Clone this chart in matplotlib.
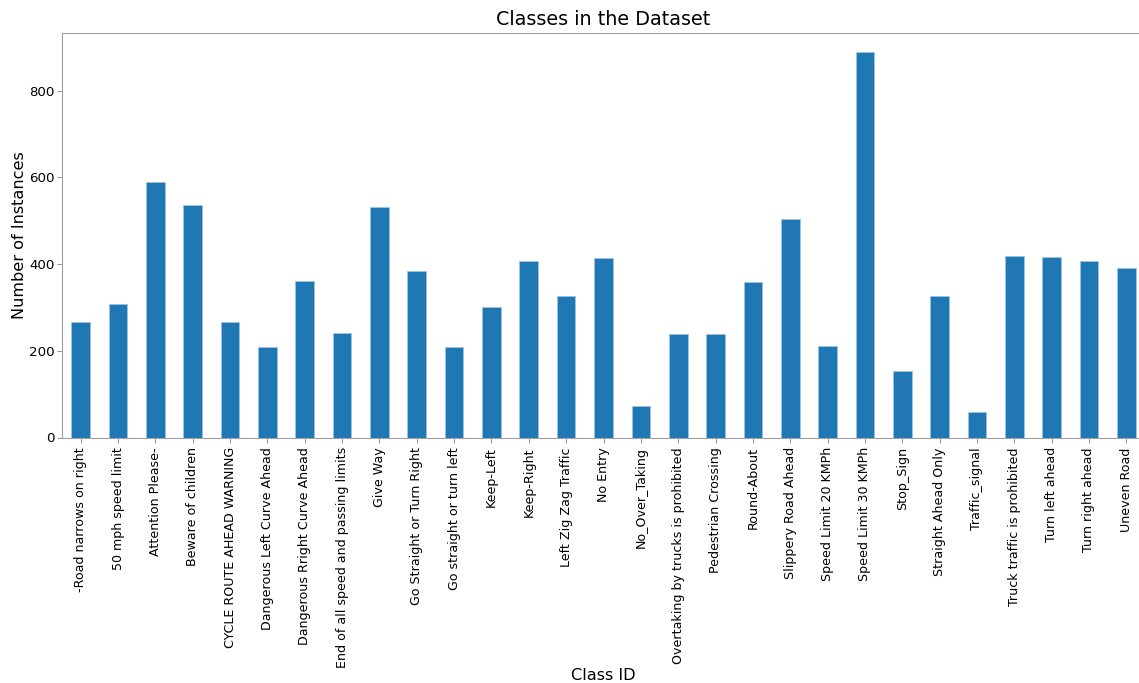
import matplotlib
matplotlib.use("Agg")
import matplotlib.pyplot as plt
import pandas as pd

# class names and counts
classes = ['-Road narrows on right', '50 mph speed limit', 'Attention Please-',
           'Beware of children', 'CYCLE ROUTE AHEAD WARNING',
           'Dangerous Left Curve Ahead', 'Dangerous Rright Curve Ahead',
           'End of all speed and passing limits', 'Give Way',
           'Go Straight or Turn Right', 'Go straight or turn left', 'Keep-Left',
           'Keep-Right', 'Left Zig Zag Traffic', 'No Entry', 'No_Over_Taking',
           'Overtaking by trucks is prohibited', 'Pedestrian Crossing',
           'Round-About', 'Slippery Road Ahead', 'Speed Limit 20 KMPh',
           'Speed Limit 30 KMPh', 'Stop_Sign', 'Straight Ahead Only',
           'Traffic_signal', 'Truck traffic is prohibited', 'Turn left ahead',
           'Turn right ahead', 'Uneven Road']
counts = [267, 307, 589, 536, 267, 209, 360, 240, 533, 384, 208, 301, 407, 327,
          415, 72, 239, 238, 359, 505, 210, 889, 154, 327, 58, 419, 417, 407, 390]

s = pd.Series(counts, index=classes)

fig = plt.figure(figsize=(11.39, 6.83), dpi=100)
# axes runs a little past the right edge, like the cropped original
ax = fig.add_axes([62 / 1139, 1 - 437.5 / 683, (1145 - 62) / 1139, (437.5 - 33) / 683])
s.plot(kind='bar', ax=ax, color='#1f77b4', edgecolor='#9ec3e6', linewidth=0.6)

ax.set_title('Classes in the Dataset', fontsize=13.8)
ax.set_xlabel('Class ID', fontsize=11.6, labelpad=0)
ax.set_ylabel('Number of Instances', fontsize=11.6, labelpad=1)
ax.tick_params(axis='x', labelsize=9.1, color='#999999')
ax.tick_params(axis='y', labelsize=9.6, color='#999999', pad=2)
for side in ['left', 'top', 'bottom', 'right']:
    ax.spines[side].set_color('#a0a0a0')
ax.set_yticks([0, 200, 400, 600, 800])

fig.savefig('out.png', dpi=100)
